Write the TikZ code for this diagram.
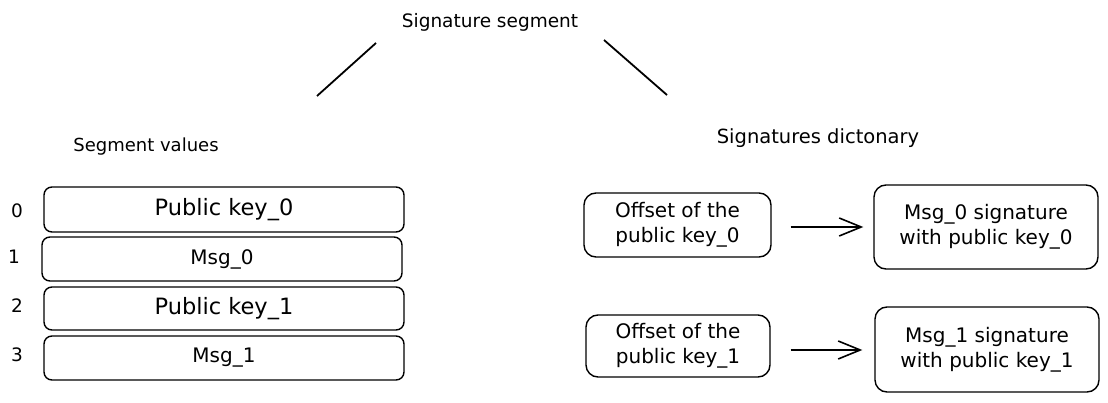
\documentclass[tikz,border=0pt]{standalone}
\usepackage{fontspec}
\setmainfont{DejaVu Sans}
\usetikzlibrary{arrows.meta}
\tikzset{
  seg/.style={draw, line width=1.4pt, rounded corners=8pt, minimum width=360pt, inner sep=0pt},
  dict/.style={draw, line width=1.4pt, rounded corners=12pt, inner sep=0pt, align=center, font=\fontsize{20}{25}\selectfont},
  lbl/.style={inner sep=0pt, font=\fontsize{18.5}{22}\selectfont},
  conn/.style={line width=1.6pt, -{Straight Barb[length=22pt,width=18pt,line width=1.6pt]}},
  plain/.style={line width=1.8pt}
}
\begin{document}
\begin{tikzpicture}[x=1pt,y=-1pt]
\useasboundingbox (0,0) rectangle (1108,403);
\node[lbl] (title) at (490,22) {Signature segment};
\coordinate (l1a) at (376,43); \coordinate (l1b) at (317,96);
\coordinate (l2a) at (604,40); \coordinate (l2b) at (667,95);
\draw[plain] (l1a) -- (l1b);
\draw[plain] (l2a) -- (l2b);
\node[lbl, font=\fontsize{18}{22}\selectfont] (segv) at (146,147) {Segment values};
\node[lbl, font=\fontsize{19.5}{22}\selectfont] (sigd) at (818,138) {Signatures dictonary};

\node[seg, minimum height=45pt, font=\fontsize{22.5}{26}\selectfont] (b0) at (224,209.5) {Public key\_0};
\node[seg, minimum height=44pt, font=\fontsize{20}{24}\selectfont] (b1) at (222,259) {Msg\_0};
\node[seg, minimum height=43pt, font=\fontsize{22.5}{26}\selectfont] (b2) at (224,308.5) {Public key\_1};
\node[seg, minimum height=44pt, font=\fontsize{20}{24}\selectfont] (b3) at (224,358) {Msg\_1};
\node[lbl] (n0) at (17,211) {0};
\node[lbl] (n1) at (14,257) {1};
\node[lbl] (n2) at (17,306) {2};
\node[lbl] (n3) at (17,355) {3};

\node[dict, minimum width=187pt, minimum height=64pt] (o0) at (677.5,225) {Offset of the\\public key\_0};
\node[dict, minimum width=224pt, minimum height=84pt] (s0) at (986,227) {Msg\_0 signature\\with public key\_0};
\node[dict, minimum width=184pt, minimum height=62pt] (o1) at (678,346) {Offset of the\\public key\_1};
\node[dict, minimum width=224pt, minimum height=85pt] (s1) at (987,349.5) {Msg\_1 signature\\with public key\_1};
\draw[conn] ([xshift=19pt]o0.east|-0,227) -- ([xshift=-10pt]s0.west|-0,227);
\draw[conn] ([xshift=20pt]o1.east|-0,350) -- ([xshift=-12pt]s1.west|-0,350);
\end{tikzpicture}
\end{document}
